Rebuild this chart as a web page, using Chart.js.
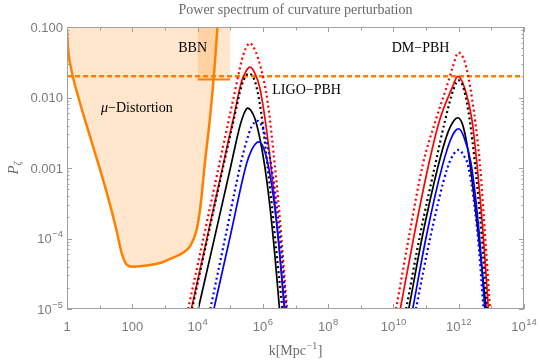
<!DOCTYPE html>
<html>
<head>
<meta charset="utf-8">
<script src="https://cdn.jsdelivr.net/npm/chart.js@4.4.0/dist/chart.umd.min.js"></script>
<style>
  html, body { margin: 0; padding: 0; background: #fff; }
</style>
</head>
<body>
<canvas id="chart" width="540" height="363"></canvas>
<script>
// every curve point is [log10 k, log10 P]
const muDistortion = [[0, -1.05], [0.03, -1.3], [0.14, -1.62], [0.35, -2.0], [0.65, -2.47], [0.96, -2.94],
  [1.26, -3.42], [1.52, -3.89], [1.67, -4.2], [1.83, -4.37], [2.0, -4.4], [2.5, -4.38], [2.9, -4.34],
  [3.25, -4.27], [3.56, -4.2], [3.78, -4.1], [3.97, -3.88], [4.1, -3.5], [4.22, -2.95], [4.37, -2.33],
  [4.5, -1.69], [4.61, -1.0]];

// LIGO-PBH peak
const ligoRedDot = [[3.71, -5], [4.2, -3.95], [4.7, -2.87], [5.1, -2.01], [5.35, -1.48], [5.48, -1.3], [5.6, -1.23],
  [5.78, -1.35], [5.95, -1.6], [6.09, -1.9], [6.2, -2.25], [6.33, -2.8], [6.47, -3.45], [6.6, -4.18], [6.74, -5]];
const ligoRedSolid = [[3.81, -5], [4.3, -3.97], [4.8, -2.92], [5.1, -2.29], [5.35, -1.77], [5.48, -1.63], [5.6, -1.57],
  [5.75, -1.65], [5.9, -1.85], [6.05, -2.25], [6.21, -2.82], [6.36, -3.45], [6.51, -4.18], [6.67, -5]];
const ligoBlackDot = [[3.83, -5], [4.3, -4.0], [4.8, -2.95], [5.1, -2.33], [5.35, -1.83], [5.47, -1.7], [5.58, -1.66],
  [5.7, -1.71], [5.8, -1.84], [5.95, -2.22], [6.13, -2.92], [6.28, -3.55], [6.43, -4.25], [6.6, -5]];
const ligoBlackSolid = [[4.02, -5], [4.5, -4.03], [5.0, -3.01], [5.3, -2.4], [5.43, -2.22], [5.53, -2.15],
  [5.63, -2.18], [5.75, -2.29], [5.9, -2.56], [6.06, -2.98], [6.22, -3.56], [6.37, -4.25], [6.51, -5]];
const ligoBlueDot = [[4.39, -5], [4.85, -3.98], [5.32, -2.94], [5.5, -2.62], [5.65, -2.42], [5.82, -2.33],
  [6.02, -2.46], [6.22, -2.86], [6.42, -3.52], [6.57, -4.2], [6.72, -5]];
const ligoBlueSolid = [[4.5, -5], [5.0, -3.97], [5.5, -2.94], [5.65, -2.75], [5.77, -2.66], [5.87, -2.63],
  [6.07, -2.78], [6.27, -3.24], [6.47, -4.0], [6.66, -5]];

// DM-PBH peak
const dmRedDot = [[10.08, -5], [10.49, -3.94], [10.9, -2.95], [11.31, -2.3], [11.63, -1.85], [11.81, -1.58], [11.99, -1.364],
  [12.19, -1.5], [12.35, -1.85], [12.51, -2.35], [12.65, -2.95], [12.8, -3.9], [12.96, -5]];
const dmRedSolid = [[10.21, -5], [10.64, -3.94], [11.08, -2.95], [11.41, -2.33], [11.81, -1.85], [11.97, -1.7],
  [12.17, -1.85], [12.41, -2.33], [12.56, -2.95], [12.75, -3.94], [12.91, -5]];
const dmBlackDot = [[10.39, -5], [10.82, -3.94], [11.28, -2.95], [11.58, -2.33], [11.85, -1.87], [11.99, -1.757],
  [12.15, -1.87], [12.34, -2.33], [12.5, -2.95], [12.7, -3.94], [12.86, -5]];
const dmBlackSolid = [[10.47, -5], [10.9, -3.94], [11.36, -2.99], [11.65, -2.52], [11.85, -2.33], [11.97, -2.287],
  [12.1, -2.36], [12.22, -2.58], [12.36, -2.99], [12.6, -3.94], [12.84, -5]];
const dmBlueSolid = [[10.59, -5], [11.02, -3.94], [11.5, -2.97], [11.75, -2.6], [11.9, -2.47], [12.0, -2.443],
  [12.15, -2.55], [12.38, -2.94], [12.63, -3.94], [12.8, -5]];
const dmBlueDot = [[10.69, -5], [11.15, -3.94], [11.66, -2.99], [11.85, -2.8], [12.0, -2.742],
  [12.15, -2.82], [12.3, -2.99], [12.58, -3.94], [12.76, -5]];

// BBN box and the horizontal bound
const bbnK = [1e4, 1e5];
const bbnP = [0.018, 0.018];
const boundK = [1, 1e14];
const boundP = [0.02, 0.02];

const xTicks = [1, 100, 1e4, 1e6, 1e8, 1e10, 1e12, 1e14];
const xTickLabels = ["1", "100", "10^4", "10^6", "10^8", "10^10", "10^12", "10^14"];
const yTicks = [0.1, 0.01, 0.001, 1e-4, 1e-5];
const yTickLabels = ["0.100", "0.010", "0.001", "10^\u22124", "10^\u22125"];

// text notes: [label, k, P]
const notes = [["BBN", 10 ** 3.85, 10 ** -1.3], ["\u03bc\u2212Distortion", 10 ** 2.14, 10 ** -2.155],
  ["LIGO\u2212PBH", 10 ** 7.34, 10 ** -1.9], ["DM\u2212PBH", 10 ** 10.83, 10 ** -1.3]];

const ORANGE = "#ff8000";
const PEACH = "rgba(255,128,0,0.2)";

const toPts = (arr) => arr.map(([lk, lp]) => ({ x: 10 ** lk, y: 10 ** lp }));
const curve = (arr, color, dotted) => ({
  data: toPts(arr),
  borderColor: color,
  borderWidth: dotted ? 2.2 : 1.7,
  borderDash: dotted ? [2, 3] : [],
  pointRadius: 0,
  fill: false,
  cubicInterpolationMode: "monotone",
  order: 1,
});

const SERIF = "'Liberation Serif', 'Times New Roman', serif";
const SANS = "'Liberation Sans', Arial, sans-serif";

// draws "10^n" style text, align = center | right
function powText(ctx, str, x, y, align) {
  const [base, exp] = str.split("^");
  ctx.font = "13px " + SANS;
  const wb = ctx.measureText(base).width;
  let we = 0;
  if (exp) {
    ctx.font = "9.5px " + SANS;
    we = ctx.measureText(exp).width + 0.5;
  }
  const w = wb + we;
  let x0 = align === "right" ? x - w : x - w / 2;
  ctx.textAlign = "left";
  ctx.font = "13px " + SANS;
  ctx.fillText(base, x0, y);
  if (exp) {
    ctx.font = "9.5px " + SANS;
    ctx.fillText(exp, x0 + wb + 0.5, y - 6);
  }
}

const framePlugin = {
  id: "frame",
  afterDatasetsDraw(chart) {
    const { ctx, chartArea: a, scales } = chart;
    const x = scales.x, y = scales.y;
    ctx.save();
    ctx.strokeStyle = "#a0a0a0";
    ctx.lineWidth = 1;
    ctx.strokeRect(a.left + 0.5, a.top + 0.5, a.right - a.left - 1, a.bottom - a.top - 1);

    ctx.beginPath();
    for (let e = 0; e <= 14; e++) {
      const px = Math.round(x.getPixelForValue(10 ** e)) + 0.5;
      const len = e % 2 === 0 ? 5 : 3.5;
      ctx.moveTo(px, a.bottom); ctx.lineTo(px, a.bottom - len);
      ctx.moveTo(px, a.top); ctx.lineTo(px, a.top + len);
    }
    for (let e = -5; e <= -1; e++) {
      for (let m = 1; m <= 9; m++) {
        const v = m * 10 ** e;
        if (v > 0.1 * 1.0001) continue;
        const py = Math.round(y.getPixelForValue(v)) + 0.5;
        const len = m === 1 ? 5 : 2.5;
        ctx.moveTo(a.left, py); ctx.lineTo(a.left + len, py);
        ctx.moveTo(a.right, py); ctx.lineTo(a.right - len, py);
      }
    }
    ctx.stroke();

    // tick labels
    ctx.fillStyle = "#7a7a7a";
    ctx.textBaseline = "alphabetic";
    xTicks.forEach((v, i) => powText(ctx, xTickLabels[i], x.getPixelForValue(v), a.bottom + 22, "center"));
    yTicks.forEach((v, i) => powText(ctx, yTickLabels[i], y.getPixelForValue(v) + 4.5 > 0 ? a.left - 4 : 0, y.getPixelForValue(v) + 4.5, "right"));

    // title
    ctx.fillStyle = "#6a6a6a";
    ctx.font = "14px " + SERIF;
    ctx.textAlign = "center";
    ctx.fillText("Power spectrum of curvature perturbation", (a.left + a.right) / 2, 14);

    // x axis label  k[Mpc^-1]
    ctx.textAlign = "left";
    ctx.font = "14px " + SERIF;
    const t1 = "k[Mpc", t3 = "]";
    ctx.font = "10px " + SERIF;
    const t2 = "\u22121";
    const w2 = ctx.measureText(t2).width;
    ctx.font = "14px " + SERIF;
    const w1 = ctx.measureText(t1).width, w3 = ctx.measureText(t3).width;
    let lx = (a.left + a.right) / 2 - (w1 + w2 + w3 + 1) / 2;
    const ly = 355;
    ctx.fillText(t1, lx, ly);
    ctx.font = "10px " + SERIF;
    ctx.fillText(t2, lx + w1 + 0.5, ly - 6);
    ctx.font = "14px " + SERIF;
    ctx.fillText(t3, lx + w1 + w2 + 1, ly);

    // y axis label  P_zeta
    ctx.save();
    ctx.translate(18, (a.top + a.bottom) / 2);
    ctx.rotate(-Math.PI / 2);
    ctx.font = "italic 15px " + SERIF;
    const wp = ctx.measureText("P").width;
    ctx.font = "italic 10px " + SERIF;
    const wz = ctx.measureText("\u03b6").width;
    ctx.font = "italic 15px " + SERIF;
    ctx.fillText("P", -(wp + wz) / 2, 0);
    ctx.font = "italic 10px " + SERIF;
    ctx.fillText("\u03b6", -(wp + wz) / 2 + wp, 3);
    ctx.restore();

    // annotations
    ctx.fillStyle = "#000";
    ctx.textBaseline = "middle";
    notes.forEach(([txt, k, p]) => {
      const cx = x.getPixelForValue(k), cy = y.getPixelForValue(p);
      if (txt[0] === "\u03bc") {
        ctx.font = "italic 14px " + SERIF;
        const wm = ctx.measureText("\u03bc").width;
        ctx.font = "14px " + SERIF;
        const rest = txt.slice(1);
        const wr = ctx.measureText(rest).width;
        const sx = cx - (wm + wr) / 2;
        ctx.textAlign = "left";
        ctx.font = "italic 14px " + SERIF;
        ctx.fillText("\u03bc", sx, cy);
        ctx.font = "14px " + SERIF;
        ctx.fillText(rest, sx + wm, cy);
      } else {
        ctx.textAlign = "center";
        ctx.font = "14px " + SERIF;
        ctx.fillText(txt, cx, cy);
      }
    });
    ctx.restore();
  },
};

new Chart(document.getElementById("chart"), {
  type: "line",
  data: {
    datasets: [
      {
        data: toPts(muDistortion), borderColor: ORANGE, borderWidth: 2.5, backgroundColor: PEACH,
        fill: "end", pointRadius: 0, cubicInterpolationMode: "monotone", order: 5,
      },
      {
        data: bbnK.map((k, i) => ({ x: k, y: bbnP[i] })), borderColor: ORANGE, borderWidth: 2.2,
        backgroundColor: PEACH, fill: "end", pointRadius: 0, order: 4,
      },
      {
        data: boundK.map((k, i) => ({ x: k, y: boundP[i] })), borderColor: ORANGE, borderWidth: 2.5,
        borderDash: [5, 3], fill: false, pointRadius: 0, order: 3,
      },
      curve(ligoBlueSolid, "#0000ff", false),
      curve(ligoBlueDot, "#0000ff", true),
      curve(ligoBlackSolid, "#000000", false),
      curve(ligoBlackDot, "#000000", true),
      curve(ligoRedSolid, "#ff0000", false),
      curve(ligoRedDot, "#ff0000", true),
      curve(dmBlueDot, "#0000ff", true),
      curve(dmBlueSolid, "#0000ff", false),
      curve(dmBlackSolid, "#000000", false),
      curve(dmBlackDot, "#000000", true),
      curve(dmRedSolid, "#ff0000", false),
      curve(dmRedDot, "#ff0000", true),
    ],
  },
  options: {
    responsive: false,
    animation: false,
    layout: { padding: { left: 67, right: 16, top: 27, bottom: 54 } },
    plugins: { legend: { display: false }, tooltip: { enabled: false } },
    scales: {
      x: { type: "logarithmic", min: 1, max: 1e14, display: false },
      y: { type: "logarithmic", min: 1e-5, max: 0.1, display: false },
    },
  },
  plugins: [framePlugin],
});
</script>
</body>
</html>
